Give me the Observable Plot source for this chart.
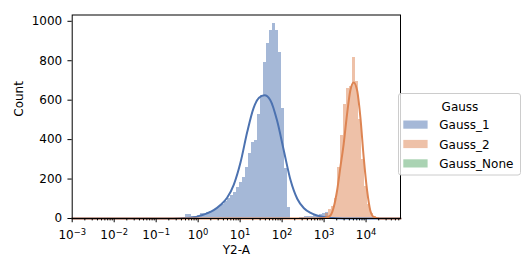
<!DOCTYPE html>
<html>
<head>
<meta charset="utf-8">
<script src="https://cdn.jsdelivr.net/npm/d3@7"></script>
<script src="https://cdn.jsdelivr.net/npm/@observablehq/plot@0.6"></script>
<style>
  body { margin: 0; background: #fff; }
  #wrap { position: relative; width: 526px; height: 270px; font-family: "DejaVu Sans", sans-serif; }
  #wrap svg { display: block; }
  #legend { position: absolute; left: 0; top: 0; pointer-events: none; }
</style>
</head>
<body>
<div id="wrap"></div>
<script>
// ---- data ----
// histogram bins in log10(Y2-A) space
const binLo = -3;
const binHi = 4.82;
const binCount = 110;

// Gauss_1 counts, starting at bin index gauss1Start
const gauss1Start = 37;
const gauss1Counts = [4, 20, 18, 12, 12, 14, 24, 26, 30, 36, 42, 52, 60, 72, 85, 100, 118, 134, 159, 185,
  210, 260, 330, 385, 395, 528, 624, 793, 890, 951, 991, 954, 844, 557, 252, 57, 0, 0, 2, 3,
  5, 10, 12, 12, 14, 14, 18, 25, 28, 6, 3];

// Gauss_2 counts, starting at bin index gauss2Start
const gauss2Start = 83;
const gauss2Counts = [3, 8, 25, 45, 60, 100, 260, 420, 580, 660, 670, 819, 695, 500, 300, 160, 70, 25, 8, 3];

// KDE curves (log10 x, count)
const gauss1KdeLog = [-3, -0.6, -0.3, -0.1, 0.055, 0.21, 0.37, 0.53, 0.69, 0.85, 1.01, 1.17, 1.32, 1.45, 1.58, 1.72, 1.88, 2.04, 2.20, 2.36, 2.52, 2.68, 2.83, 3.07, 3.3, 3.6, 4.82];
const gauss1KdeCount = [0, 0, 2, 6, 15, 26, 42, 68, 105, 172, 285, 440, 560, 612, 625, 600, 497, 345, 195, 100, 52, 28, 15, 5, 1, 0, 0];
const gauss2KdeLog = [-3, 2.9, 3.05, 3.15, 3.229, 3.31, 3.388, 3.467, 3.548, 3.626, 3.705, 3.786, 3.864, 3.943, 4.024, 4.10, 4.18, 4.3, 4.82];
const gauss2KdeCount = [0, 0, 4, 15, 57, 142, 260, 379, 531, 650, 690, 650, 514, 311, 142, 41, 8, 0, 0];

const seriesNames = ["Gauss_1", "Gauss_2", "Gauss_None"];
const seriesColors = ["#4c72b0", "#dd8452", "#55a868"];

const yTicks = [0, 200, 400, 600, 800, 1000];
const xTickExps = [-3, -2, -1, 0, 1, 2, 3, 4];
const xTickLabels = ["10⁻³", "10⁻²", "10⁻¹", "10⁰", "10¹", "10²", "10³", "10⁴"];
const xLabel = "Y2-A";
const yLabel = "Count";
const legendTitle = "Gauss";

// ---- build tables ----
const binW = (binHi - binLo) / binCount;
function bins(start, counts) {
  return counts.map((c, i) => ({
    x1: Math.pow(10, binLo + (start + i) * binW),
    x2: Math.pow(10, binLo + (start + i + 1) * binW),
    count: c
  }));
}
const g1 = bins(gauss1Start, gauss1Counts);
const g2 = bins(gauss2Start, gauss2Counts);
const k1 = gauss1KdeLog.map((l, i) => ({x: Math.pow(10, l), y: gauss1KdeCount[i]}));
const k2 = gauss2KdeLog.map((l, i) => ({x: Math.pow(10, l), y: gauss2KdeCount[i]}));

const majorTicks = xTickExps.map(e => Math.pow(10, e));
const labelMap = new Map(xTickExps.map((e, i) => [e, xTickLabels[i]]));
const minorTicks = [];
for (let e = -3; e <= 4; e++) for (let m = 2; m <= 9; m++) {
  const v = m * Math.pow(10, e);
  if (v <= Math.pow(10, binHi)) minorTicks.push(v);
}

const chart = Plot.plot({
  width: 526,
  height: 270,
  marginLeft: 71.7,
  marginRight: 126,
  marginTop: 14.5,
  marginBottom: 52,
  style: {fontFamily: "DejaVu Sans", fontSize: "12px", color: "black", background: "white"},
  x: {type: "log", domain: [Math.pow(10, binLo), Math.pow(10, binHi)]},
  y: {domain: [0, 1032]},
  marks: [
    Plot.rectY(g1, {x1: "x1", x2: "x2", y: "count", fill: seriesColors[0], fillOpacity: 0.5, inset: 0, shapeRendering: "crispEdges"}),
    Plot.rectY(g2, {x1: "x1", x2: "x2", y: "count", fill: seriesColors[1], fillOpacity: 0.5, inset: 0, shapeRendering: "crispEdges"}),
    Plot.line(k1, {x: "x", y: "y", stroke: seriesColors[0], strokeWidth: 2, curve: "monotone-x"}),
    Plot.line(k2, {x: "x", y: "y", stroke: seriesColors[1], strokeWidth: 2, curve: "monotone-x"}),
    Plot.axisY({ticks: yTicks, tickSize: 4.25, tickPadding: 5.75, label: null, tickFormat: d => String(d)}),
    Plot.axisX({ticks: minorTicks, tickSize: 2.4, tickFormat: () => "", label: null}),
    Plot.axisX({ticks: majorTicks, tickSize: 4.25, tickPadding: 8, label: null,
      tickFormat: d => labelMap.get(Math.round(Math.log10(d)))}),
    Plot.text([yLabel], {frameAnchor: "left", text: d => d, rotate: -90, dx: -53.4, fill: "black"}),
    Plot.text([xLabel], {frameAnchor: "bottom", text: d => d, dy: 35.3, fill: "black"}),
    Plot.frame({stroke: "black", strokeWidth: 1})
  ]
});

// render the exponents as real superscripts (like matplotlib mathtext)
chart.querySelectorAll('[aria-label="x-axis tick label"] text').forEach(t => {
  const i = xTickLabels.indexOf(t.textContent);
  if (i < 0) return;
  const e = xTickExps[i];
  const ns = "http://www.w3.org/2000/svg";
  t.textContent = "";
  const base = document.createElementNS(ns, "tspan");
  base.textContent = "10";
  const sup = document.createElementNS(ns, "tspan");
  sup.textContent = e < 0 ? "\u2212" + (-e) : String(e);
  sup.setAttribute("font-size", "8.4");
  sup.setAttribute("dy", "-4.6");
  t.appendChild(base);
  t.appendChild(sup);
});

const wrap = document.getElementById("wrap");
wrap.appendChild(chart);

// ---- legend (overlapping the right side, as in the reference) ----
const svg = d3.select(wrap).append("svg")
  .attr("id", "legend").attr("width", 526).attr("height", 270)
  .style("font-family", "DejaVu Sans").style("font-size", "12px");
svg.append("rect").attr("x", 398.5).attr("y", 93.5).attr("width", 122).attr("height", 81.5)
  .attr("rx", 2.5).attr("fill", "white").attr("fill-opacity", 0.8).attr("stroke", "#cccccc").attr("stroke-width", 1);
svg.append("text").attr("x", 460).attr("y", 111).attr("text-anchor", "middle").attr("fill", "black").text(legendTitle);
seriesNames.forEach((name, i) => {
  const yy = 120.5 + i * 19.4;
  svg.append("rect").attr("x", 403.3).attr("y", yy).attr("width", 24.3).attr("height", 8.2)
    .attr("fill", seriesColors[i]).attr("fill-opacity", 0.5);
  svg.append("text").attr("x", 439.3).attr("y", yy + 8.6).attr("fill", "black").text(name);
});
</script>
</body>
</html>
